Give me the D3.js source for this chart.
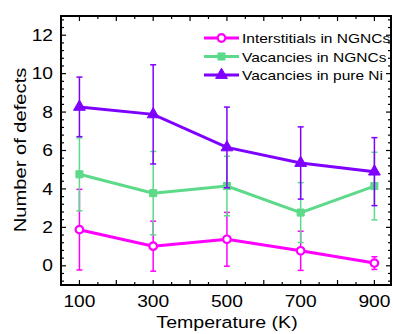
<!DOCTYPE html>
<html>
<head>
<meta charset="utf-8">
<script src="https://cdn.jsdelivr.net/npm/d3@7"></script>
<style>
    body { margin: 0; background: #fff; }
    svg { display: block; font-family: "Liberation Sans", Arial, sans-serif; }
</style>
</head>
<body>
<div class="chart"></div>
<script>
var temps = [100, 300, 500, 700, 900];

var interstitials = [1.88, 1.02, 1.38, 0.78, 0.14],
    interstitialsErr = [2.1, 1.3, 1.4, 1.02, 0.33];

var vacNGNC = [4.76, 3.78, 4.15, 2.77, 4.15],
    vacNGNCErr = [1.9, 2.17, 1.55, 1.56, 1.76];

var vacNi = [8.27, 7.88, 6.16, 5.35, 4.9],
    vacNiErr = [1.55, 2.58, 2.1, 1.88, 1.77];

var seriesNames = ["Interstitials in NGNCs", "Vacancies in NGNCs", "Vacancies in pure Ni"];
var xTickLabels = [100, 300, 500, 700, 900];
var yTickLabels = [0, 2, 4, 6, 8, 10, 12];

var series = [
    {name: seriesNames[0], values: interstitials, errs: interstitialsErr, color: "#ff00ff", marker: "circle"},
    {name: seriesNames[1], values: vacNGNC, errs: vacNGNCErr, color: "#5dd98a", marker: "square"},
    {name: seriesNames[2], values: vacNi, errs: vacNiErr, color: "#7f00ff", marker: "triangle"}
];

var width = 393, height = 334;
var plotLeft = 61, plotRight = 391, plotTop = 16, plotBottom = 285;
var stretch = 1.2;  // glyphs in the reference are wider than Liberation Sans

var x = d3.scaleLinear().domain([50, 945]).range([plotLeft, plotRight]);
var y = d3.scaleLinear().domain([-1, 13]).range([plotBottom, plotTop]);

var svg = d3.select(".chart").append("svg")
    .attr("width", width)
    .attr("height", height);

// ticks (inward, mirrored on all sides)
var xMajor = d3.range(100, 901, 100),
    xMinor = d3.range(150, 901, 100),
    yMajor = d3.range(0, 13, 2),
    yMinor = d3.range(-0.8, 13, 0.4).filter(function(v) {
        return Math.abs(v / 2 - Math.round(v / 2)) > 0.01;
    });

var ticks = svg.append("g").attr("stroke", "#000").attr("stroke-width", 1.2);

function xTicks(vals, len) {
    vals.forEach(function(v) {
        ticks.append("line").attr("x1", x(v)).attr("x2", x(v)).attr("y1", plotBottom).attr("y2", plotBottom - len);
        ticks.append("line").attr("x1", x(v)).attr("x2", x(v)).attr("y1", plotTop).attr("y2", plotTop + len);
    });
}
function yTicks(vals, len) {
    vals.forEach(function(v) {
        ticks.append("line").attr("y1", y(v)).attr("y2", y(v)).attr("x1", plotLeft).attr("x2", plotLeft + len);
        ticks.append("line").attr("y1", y(v)).attr("y2", y(v)).attr("x1", plotRight).attr("x2", plotRight - len);
    });
}
xTicks(xMajor, 5);
xTicks(xMinor, 3);
yTicks(yMajor, 5);
yTicks(yMinor, 3);

svg.append("rect")
    .attr("x", plotLeft).attr("y", plotTop)
    .attr("width", plotRight - plotLeft).attr("height", plotBottom - plotTop)
    .attr("fill", "none")
    .attr("stroke", "#000")
    .attr("stroke-width", 2);

function wideText(g, px, py, size, anchor, str, rotate, sx) {
    return g.append("text")
        .attr("transform", "translate(" + px + "," + py + ")" + (rotate ? " rotate(-90)" : "") + " scale(" + (sx || stretch) + ",1)")
        .attr("text-anchor", anchor)
        .attr("font-size", size)
        .text(str);
}

// tick labels
var labels = svg.append("g");
xTickLabels.forEach(function(d) { wideText(labels, x(d), 307, 16, "middle", d); });
yTickLabels.forEach(function(d) { wideText(labels, 53, y(d) + 5.7, 16, "end", d); });

wideText(svg, 227, 328, 16.3, "middle", "Temperature (K)");
wideText(svg, 25.5, 150, 16.8, "middle", "Number of defects", true);

// markers
var symbols = {
    circle: d3.symbol().type(d3.symbolCircle).size(45),
    square: d3.symbol().type(d3.symbolSquare).size(50),
    triangle: d3.symbol().type(d3.symbolTriangle).size(60)
};

function drawMarker(g, s, px, py) {
    g.append("path")
        .attr("d", symbols[s.marker]())
        .attr("transform", "translate(" + px + "," + py + ")")
        .attr("fill", s.marker === "circle" ? "#fff" : s.color)
        .attr("stroke", s.color)
        .attr("stroke-width", s.marker === "circle" ? 2.2 : 1);
}

var line = d3.line()
    .x(function(d, i) { return x(temps[i]); })
    .y(function(d) { return y(d); });

series.forEach(function(s) {
    var g = svg.append("g");

    // error bars
    s.values.forEach(function(v, i) {
        var cx = x(temps[i]);
        g.append("line")
            .attr("x1", cx).attr("x2", cx)
            .attr("y1", y(v - s.errs[i])).attr("y2", y(v + s.errs[i]))
            .attr("stroke", s.color).attr("stroke-width", 1.5);
        [v - s.errs[i], v + s.errs[i]].forEach(function(e) {
            g.append("line")
                .attr("x1", cx - 3).attr("x2", cx + 3)
                .attr("y1", y(e)).attr("y2", y(e))
                .attr("stroke", s.color).attr("stroke-width", 1.5);
        });
    });

    g.append("path")
        .datum(s.values)
        .attr("d", line)
        .attr("fill", "none")
        .attr("stroke", s.color)
        .attr("stroke-width", 3);

    s.values.forEach(function(v, i) {
        drawMarker(g, s, x(temps[i]), y(v));
    });
});

// legend
var legend = svg.append("g");
series.forEach(function(s, i) {
    var ly = 38 + i * 18.5;
    legend.append("line")
        .attr("x1", 204).attr("x2", 239)
        .attr("y1", ly).attr("y2", ly)
        .attr("stroke", s.color).attr("stroke-width", 3);
    drawMarker(legend, s, 221.5, ly);
    wideText(legend, 242, ly + 5, 13.6, "start", s.name, false, 1.14);
});
</script>
</body>
</html>
